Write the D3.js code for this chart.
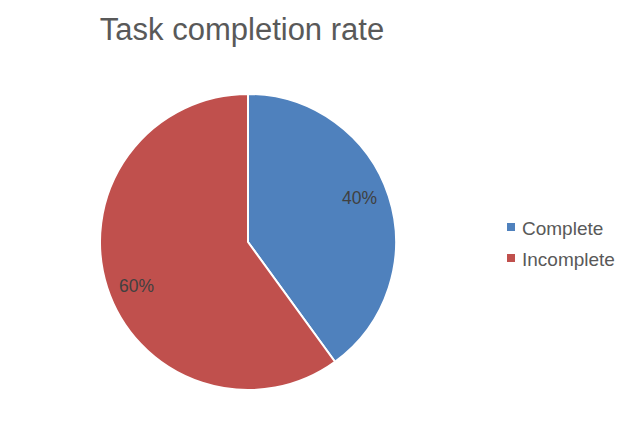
<!DOCTYPE html>
<html>
<head>
<meta charset="utf-8">
<script src="https://cdn.jsdelivr.net/npm/d3@7"></script>
<style>
body { margin: 0; background: #fff; }
</style>
</head>
<body>
<script>
// chart data
let categories = ["Complete", "Incomplete"];
let values = [40, 60];
let colors = ["#4F81BD", "#C0504D"];

let width = 640, height = 434;
let cx = 248, cy = 242, radius = 148;

let svg = d3.select("body")
.append("svg")
.attr("width", width)
.attr("height", height)
.style("font-family", "'Liberation Sans', Arial, sans-serif");

svg.append("text")
.attr("x", 242)
.attr("y", 40)
.attr("text-anchor", "middle")
.attr("font-size", 31)
.attr("fill", "#595959")
.text("Task completion rate");

let pie = d3.pie().sort(null).value(d => d.value);
let arcs = pie(categories.map((c, i) => ({name: c, value: values[i]})));
let arc = d3.arc().innerRadius(0).outerRadius(radius);
let labelArc = d3.arc().innerRadius(radius * 0.81).outerRadius(radius * 0.81);
let color = d3.scaleOrdinal().domain(categories).range(colors);

// labels sit a little counter-clockwise of the slice middle
let shift = -3.5 * Math.PI / 180;

let g = svg.append("g").attr("transform", "translate(" + cx + "," + cy + ")");

g.selectAll("path")
.data(arcs)
.enter()
.append("path")
.attr("d", arc)
.attr("fill", d => color(d.data.name))
.attr("stroke", "#fff")
.attr("stroke-width", 2);

g.selectAll("text")
.data(arcs)
.enter()
.append("text")
.attr("transform", d => "translate(" + labelArc.centroid({startAngle: d.startAngle + shift, endAngle: d.endAngle + shift}) + ")")
.attr("text-anchor", "middle")
.attr("dy", "0.35em")
.attr("font-size", 17.5)
.attr("fill", "#404040")
.text(d => d.data.value + "%");

let legend = svg.append("g")
.selectAll("g")
.data(categories)
.enter()
.append("g")
.attr("transform", (d, i) => "translate(507," + (223 + i * 31) + ")");

legend.append("rect")
.attr("width", 8)
.attr("height", 8)
.attr("fill", d => color(d));

legend.append("text")
.attr("x", 15)
.attr("y", 12)
.attr("font-size", 19)
.attr("fill", "#595959")
.text(d => d);
</script>
</body>
</html>
